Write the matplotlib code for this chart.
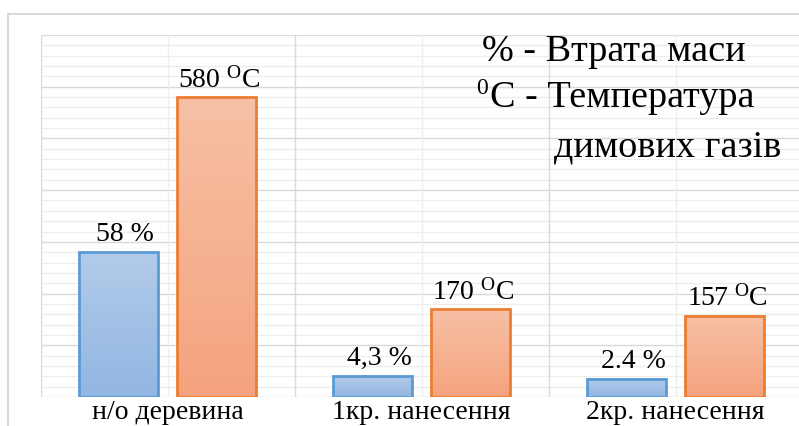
import numpy as np
import matplotlib
matplotlib.use("Agg")
import matplotlib.pyplot as plt
from matplotlib.colors import LinearSegmentedColormap
from matplotlib.lines import Line2D

plt.rcParams['font.family'] = ['Liberation Serif', 'DejaVu Serif']
plt.rcParams['mathtext.fontset'] = 'custom'
plt.rcParams['mathtext.rm'] = 'Liberation Serif'
plt.rcParams['mathtext.it'] = 'Liberation Serif'

# data
categories = ['н/о деревина', '1кр. нанесення', '2кр. нанесення']
mass_loss = [56, 8.1, 7.0]          # bar heights, % scale 0-140
mass_labels = ['58 %', '4,3 %', '2.4 %']
temperature = [580, 170, 157]       # °C, scale 0-700
temp_labels = [r'580 $^{\mathrm{O}}$C', r'170 $^{\mathrm{O}}$C', r'157 $^{\mathrm{O}}$C']

BLUE_TOP, BLUE_BOT, BLUE_EDGE = '#b2cbe9', '#92b6e2', '#5b9bd5'
ORNG_TOP, ORNG_BOT, ORNG_EDGE = '#f7c0a5', '#f5a37e', '#ed7d31'


def gradient_bar(ax, x, h, w, top, bottom, edge):
    cmap = LinearSegmentedColormap.from_list('g', [bottom, top])
    ax.imshow(np.linspace(0, 1, 64).reshape(-1, 1), extent=[x - w / 2, x + w / 2, 0, h],
              origin='lower', cmap=cmap, aspect='auto', zorder=2)
    ax.bar(x, h, w, fill=False, edgecolor=edge, linewidth=2, zorder=3)


fig = plt.figure(figsize=(7.99, 4.26), dpi=100)

# chart area border (cut off right and bottom)
fig.add_artist(Line2D([8 / 799, 1], [1 - 14 / 426] * 2, color='#d9d9d9', lw=1.5))
fig.add_artist(Line2D([8 / 799] * 2, [0, 1 - 14 / 426], color='#d9d9d9', lw=1.5))

ax = fig.add_axes([40.5 / 799, 29 / 426, 762 / 799, 362 / 426])
ax2 = ax.twinx()

x = np.arange(len(categories))
w = 0.311
off = 0.193

# grid (chart gridlines + sheet cell lines behind)
for v in np.arange(0, 701, 20):
    major = v % 100 == 0
    ax.axhline(v, color='#d9d9d9' if major else '#eeeeee', lw=1.0, zorder=0)
for b in [-0.5, 0.5, 1.5]:
    ax.axvline(b, color='#d9d9d9', lw=1.0, zorder=0)
for c in x:
    ax.axvline(c, color='#eeeeee', lw=1.0, zorder=0)

for i in range(len(categories)):
    gradient_bar(ax2, x[i] - off, mass_loss[i], w, BLUE_TOP, BLUE_BOT, BLUE_EDGE)
    gradient_bar(ax, x[i] + off, temperature[i], w, ORNG_TOP, ORNG_BOT, ORNG_EDGE)
    ax2.annotate(mass_labels[i], (x[i] - off, mass_loss[i]), xytext=(5, 8),
                 textcoords='offset points', ha='center', va='baseline', fontsize=20)
    ax.annotate(temp_labels[i], (x[i] + off, temperature[i]), xytext=(2, 7),
                textcoords='offset points', ha='center', va='baseline', fontsize=20)

ax.set_xlim(-0.5, 2.5)
ax.set_ylim(0, 700)
ax2.set_ylim(0, 140)
ax2.set_xlim(-0.5, 2.5)

ax.set_xticks(x)
ax.set_xticklabels(categories, fontsize=20)
ax.tick_params(axis='x', length=0, pad=2.5)
ax.set_yticks([])
ax2.set_yticks([])
for a in (ax, ax2):
    for s in a.spines.values():
        s.set_visible(False)

# legend text block
px = lambda X, Y: (X / 799, 1 - Y / 426)
fig.text(*px(482, 61), '% - Втрата маси', fontsize=27.5, va='baseline', ha='left')
fig.text(*px(476, 94), '0', fontsize=17, va='baseline', ha='left')
fig.text(*px(490, 107), 'C - Температура', fontsize=27.5, va='baseline', ha='left')
fig.text(*px(554, 156), 'димових газів', fontsize=27.5, va='baseline', ha='left')

fig.savefig('out.png', dpi=100)
